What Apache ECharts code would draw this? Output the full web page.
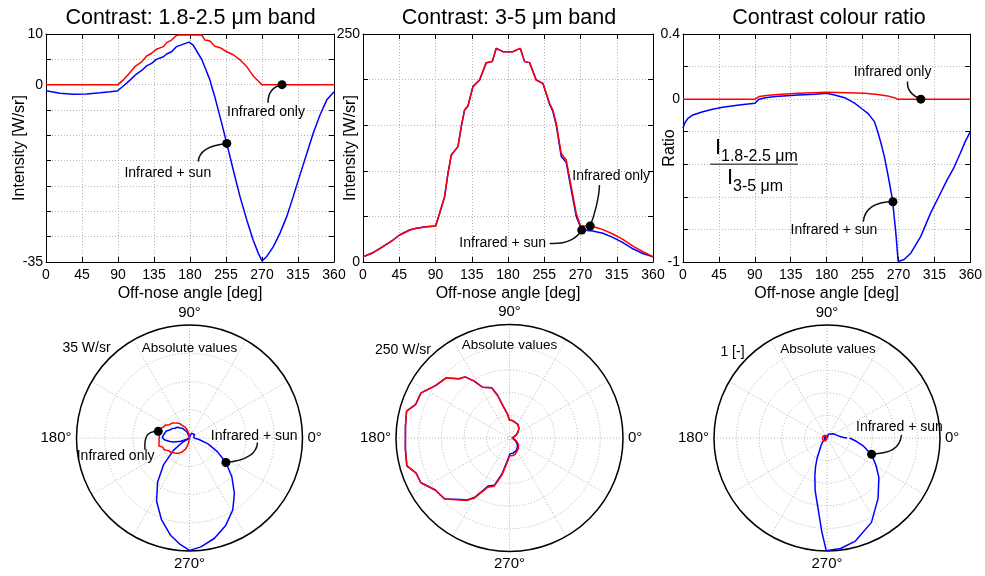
<!DOCTYPE html>
<html>
<head>
<meta charset="utf-8">
<title>Contrast</title>
<script src="https://cdn.jsdelivr.net/npm/echarts@6/dist/echarts.min.js"></script>
<style>
  html, body { margin: 0; padding: 0; background: #fff; }
  #main { width: 985px; height: 576px; }
</style>
</head>
<body>
<div id="main"></div>
<script>
// tick labels of the off-nose angle axis (the 225 tick reads "255" in the original)
const xTickLabels = ['0', '45', '90', '135', '180', '255', '270', '315', '360'];
const yTickLabels1 = ['10', '0', '-35'];
const yTickLabels2 = ['250', '0'];
const yTickLabels3 = ['0.4', '0', '-1'];

// [off-nose angle deg, value]
// 1.8-2.5 um band intensity [W/sr]
const ir1 = [[0,0],[90,0],[97.5,1.05],[105,2.4],[111,3.55],[119.6,4.5],[125.8,5.66],[132,6.2],[138,7.0],[146.7,7.5],
  [150.8,8.3],[157,8.8],[163,9.7],[166,9.8],[194.6,9.8],[198.8,8.8],[205,8.6],[211,7.6],[217.5,7.3],[226,6.5],
  [234,5.9],[242.5,4.9],[251,3.55],[259,1.7],[270,0],[360,0]];
const irSun1 = [[0,-1.2],[17.5,-1.7],[34,-1.9],[51,-1.85],[67.5,-1.6],[80,-1.4],[89,-1.25],[96.7,-0.26],[105,0.9],
  [113,2.1],[119.6,2.8],[125.8,3.7],[132,4.2],[138,5.0],[146.7,5.5],[150.8,6.05],[157,6.5],[163,7.5],[171.7,8.0],
  [178.8,8.4],[184,7.8],[190,6.2],[194.6,5.0],[200,2.9],[205,0.9],[206.5,0],[211,-2.4],[217.5,-6.3],[226,-11.6],
  [234,-16.8],[242.5,-22.1],[251,-26.7],[259,-30.7],[265,-33.1],[270,-34.8],[276,-33.9],[284,-32],[292.5,-29.3],
  [301,-26],[309,-22.1],[317.5,-17.8],[326,-13.6],[334,-9.6],[342.5,-6],[351,-3],[360,-1.4]];

// 3-5 um band intensity [W/sr]
const ir2 = [[0,5.8],[12.4,10.2],[24.8,16.8],[37.2,24.1],[45.5,29.6],[57.9,35.1],[66.2,36.9],[78.6,38.7],[90.2,39.5],
  [95.1,53.4],[101.3,71.6],[105.5,97.2],[109.6,117.3],[117.9,126.5],[122,148.4],[126.1,166.7],[130.3,171],
  [136.5,192.3],[144.7,199.6],[153,218.6],[160.5,219.7],[165.4,234.3],[173.7,230.6],[186.1,230.6],[195.2,234.3],
  [200.6,219.7],[206.8,218.6],[215,199.6],[223.3,195.9],[231.6,174],[235.7,166.7],[239.9,152],[246,119],
  [252.3,111.8],[258.5,82.6],[264.7,53.4],[270,39.5],[281.2,39.5],[289.5,37.8],[297.8,35.5],[310.2,30.7],
  [322.6,24.9],[335,17.5],[347.4,11.3],[360,5.8]];
const irSun2 = [[0,5.8],[12.4,10.2],[24.8,16.8],[37.2,24.1],[45.5,29.6],[57.9,35.1],[66.2,36.9],[78.6,38.7],[90.2,39.5],
  [95.1,53.4],[101.3,71.6],[105.5,97.2],[109.6,117.3],[117.9,126.5],[122,148.4],[126.1,166.7],[130.3,171],
  [136.5,192.3],[144.7,199.6],[153,218.6],[160.5,219.7],[165.4,234.3],[173.7,230.6],[186.1,230.6],[195.2,234.3],
  [200.6,219.7],[206.8,218.6],[215,199.6],[223.3,195.9],[231.6,173],[235.7,165],[239.9,150],[246,116],
  [252.3,109],[258.5,79],[264.7,50],[271.5,35],[285,34],[297.8,31.5],[310.2,27],[322.6,21.2],[335,14.5],
  [347.4,9.3],[360,5.6]];

// colour ratio I(1.8-2.5) / I(3-5)
const ratioIr = [[0,0],[90.2,0],[95.1,0.016],[107.5,0.024],[124,0.03],[144.7,0.036],[180,0.042],[206.8,0.04],
  [227.5,0.036],[244,0.028],[256.4,0.02],[264.7,0.009],[268.8,0],[360,0]];
const ratioSun = [[0,-0.179],[2,-0.148],[6.2,-0.118],[12.4,-0.097],[24.8,-0.077],[37.2,-0.062],[49.6,-0.05],
  [70.3,-0.036],[90.2,-0.025],[95.1,0],[103.4,0.009],[115.8,0.016],[144.7,0.026],[165.4,0.03],[180,0.036],
  [189.8,0.026],[202.6,0.009],[206,0],[215,-0.025],[223.3,-0.056],[231.6,-0.087],[239.9,-0.138],[244,-0.2],
  [248.1,-0.271],[252.3,-0.353],[257.2,-0.475],[262.5,-0.619],[266.7,-0.823],[269.6,-0.997],[277,-0.985],
  [285.4,-0.946],[297.8,-0.844],[310.2,-0.7],[322.6,-0.578],[330.9,-0.496],[339.1,-0.424],[347.4,-0.332],
  [353.6,-0.261],[360,-0.2]];

// marked points [angle, value] for cartesian, [|value|, angle] for polar
const marks = {
  irOnly1: [295, 0], irSun1: [226, -11.6],
  irOnly2: [282, 39.5], irSun2: [271.5, 35],
  irOnly3: [298, 0], irSun3: [263, -0.63],
  polarIrOnly1: [9.9, 168], polarIrSun1: [13.6, 326],
  polarIrSun3: [0.42, 340]
};

const FONT = 'Liberation Sans, Arial, Helvetica, sans-serif';
const BLUE = '#0000ff';
const RED = '#ff0000';
const GRIDLINE = { color: '#b4b4b4', type: [1, 2], width: 1 };

const grids = [
  { left: 46, top: 34, width: 288, height: 228 },
  { left: 363, top: 34, width: 290, height: 228 },
  { left: 683, top: 34, width: 290, height: 228 }
];
const yConf = [
  { min: -35, max: 10, interval: 5, labels: yTickLabels1, name: 'Intensity [W/sr]', gap: 18 },
  { min: 0, max: 250, interval: 50, labels: yTickLabels2, name: 'Intensity [W/sr]', gap: 4 },
  { min: -1, max: 0.4, interval: 0.2, labels: yTickLabels3, name: 'Ratio', gap: 5 }
];

function yLabel(labels) {
  return v => {
    const r = Math.round(v * 1000) / 1000;
    const s = String(r === 0 ? 0 : r);
    return labels.indexOf(s) >= 0 ? s : '';
  };
}

const xAxis = [], yAxis = [];
grids.forEach((g, i) => {
  const tick = { show: true, inside: true, length: 5, lineStyle: { color: '#000' } };
  const line = { show: true, onZero: false, lineStyle: { color: '#000', width: 1 } };
  xAxis.push({
    gridIndex: i, type: 'value', min: 0, max: 360, interval: 45, position: 'bottom',
    axisLine: line, axisTick: tick, splitLine: { show: true, lineStyle: GRIDLINE },
    axisLabel: { color: '#000', fontSize: 14, fontFamily: FONT, margin: 6,
      formatter: v => xTickLabels[Math.round(v / 45)] },
    name: 'Off-nose angle [deg]', nameLocation: 'middle', nameGap: 24, nameMoveOverlap: false,
    nameTextStyle: { color: '#000', fontSize: 16, fontFamily: FONT }
  });
  xAxis.push({
    gridIndex: i, type: 'value', min: 0, max: 360, interval: 45, position: 'top',
    axisLine: line, axisTick: tick, axisLabel: { show: false }, splitLine: { show: false }
  });
  const c = yConf[i];
  yAxis.push({
    gridIndex: i, type: 'value', min: c.min, max: c.max, interval: c.interval, position: 'left',
    axisLine: line, axisTick: tick, splitLine: { show: true, lineStyle: GRIDLINE },
    axisLabel: { color: '#000', fontSize: 14, fontFamily: FONT, margin: 3, formatter: yLabel(c.labels) },
    name: c.name, nameLocation: 'middle', nameGap: c.gap, nameMoveOverlap: false,
    nameTextStyle: { color: '#000', fontSize: 16, fontFamily: FONT }
  });
  yAxis.push({
    gridIndex: i, type: 'value', min: c.min, max: c.max, interval: c.interval, position: 'right',
    axisLine: line, axisTick: tick, axisLabel: { show: false }, splitLine: { show: false }
  });
});

const polars = [
  { center: [189.5, 438], radius: 113 },
  { center: [509.5, 438], radius: 113.5 },
  { center: [827, 438], radius: 113 }
];
const rConf = [{ max: 35, interval: 8.75 }, { max: 250, interval: 50 }, { max: 1, interval: 0.2 }];
const angleAxis = polars.map((p, i) => ({
  polarIndex: i, type: 'value', min: 0, max: 360, interval: 30, startAngle: 0, clockwise: false,
  axisLine: { lineStyle: { color: '#000', width: 1.5 } }, axisTick: { show: false },
  axisLabel: { color: '#000', fontSize: 15, fontFamily: FONT, margin: 5,
    formatter: v => (v % 90 === 0 && v < 360) ? v + '°' : '' },
  splitLine: { show: true, lineStyle: GRIDLINE }
}));
const radiusAxis = polars.map((p, i) => ({
  polarIndex: i, type: 'value', min: 0, max: rConf[i].max, interval: rConf[i].interval,
  axisLine: { show: false }, axisTick: { show: false }, axisLabel: { show: false },
  splitLine: { show: true, lineStyle: GRIDLINE }
}));

function lineSeries(data, color, axis) {
  return Object.assign({ type: 'line', data: data, showSymbol: false, symbol: 'none',
    lineStyle: { color: color, width: 1.5 }, itemStyle: { color: color }, silent: true }, axis);
}
const toPolar = d => d.map(p => [Math.abs(p[1]), p[0]]);
const cart = i => ({ xAxisIndex: 2 * i, yAxisIndex: 2 * i });
const pol = i => ({ coordinateSystem: 'polar', polarIndex: i });

const series = [
  lineSeries(irSun1, BLUE, cart(0)), lineSeries(ir1, RED, cart(0)),
  lineSeries(irSun2, BLUE, cart(1)), lineSeries(ir2, RED, cart(1)),
  lineSeries(ratioSun, BLUE, cart(2)), lineSeries(ratioIr, RED, cart(2)),
  lineSeries(toPolar(irSun1), BLUE, pol(0)), lineSeries(toPolar(ir1), RED, pol(0)),
  lineSeries(toPolar(irSun2), BLUE, pol(1)), lineSeries(toPolar(ir2), RED, pol(1)),
  lineSeries(toPolar(ratioSun), BLUE, pol(2)), lineSeries(toPolar(ratioIr), RED, pol(2))
];

// annotations: dot on the curve, curved leader and label (offsets from the dot in px)
const notes = [
  { sys: cart(0), at: marks.irOnly1, text: 'Infrared only', curve: [[-10, 2], [-14, 8], [-14, 18]], label: [-16, 27] },
  { sys: cart(0), at: marks.irSun1, text: 'Infrared + sun', curve: [[-18, 2], [-28, 8], [-28.5, 18]], label: [-59, 29.5] },
  { sys: cart(1), at: marks.irOnly2, text: 'Infrared only', curve: [[4, -10], [9, -28], [9.3, -41]], label: [21, -49.5] },
  { sys: cart(1), at: marks.irSun2, text: 'Infrared + sun', curve: [[-6, 10], [-18, 14], [-32, 13.3]], label: [-79, 12.6] },
  { sys: cart(2), at: marks.irOnly3, text: 'Infrared only', curve: [[-10, -4], [-14, -10], [-13.3, -17.6]], label: [-28.3, -26.6] },
  { sys: cart(2), at: marks.irSun3, text: 'Infrared + sun', curve: [[-18, 0], [-28, 6], [-29.7, 20]], label: [-59, 28.7] },
  { sys: pol(0), at: marks.polarIrOnly1, text: 'Infrared only', curve: [[-12, 0], [-14, 6], [-13.3, 18.3]], label: [-42.6, 25] },
  { sys: pol(0), at: marks.polarIrSun1, text: 'Infrared + sun', curve: [[20, -2], [31, -8], [31.6, -20]], label: [28.3, -26.6] },
  { sys: pol(2), at: marks.polarIrSun3, text: 'Infrared + sun', curve: [[20, -1], [28, -6], [30, -19.4]], label: [27.8, -26.7] }
];
const dotStart = series.length;
notes.forEach(n => {
  series.push(Object.assign({ type: 'scatter', data: [n.at], symbolSize: 9, z: 5, silent: true,
    itemStyle: { color: '#000', opacity: 1 } }, n.sys));
});

const option = {
  animation: false,
  backgroundColor: '#fff',
  grid: grids,
  xAxis: xAxis,
  yAxis: yAxis,
  polar: polars,
  angleAxis: angleAxis,
  radiusAxis: radiusAxis,
  series: series
};

const chart = echarts.init(document.getElementById('main'));
chart.setOption(option);

function text(t, x, y, size, align) {
  return { type: 'text', z: 10, silent: true,
    style: { text: t, x: x, y: y, fill: '#000', fontSize: size, fontFamily: FONT,
      align: align || 'center', verticalAlign: 'middle' } };
}

const graphic = [
  text('Contrast: 1.8-2.5 μm band', 190.5, 18, 21.5),
  text('Contrast: 3-5 μm band', 509, 18, 21.5),
  text('Contrast colour ratio', 829, 18, 21.5),
  text('35 W/sr', 86.5, 348, 14),
  text('Absolute values', 189.5, 348, 13.5),
  text('250 W/sr', 403, 350, 14),
  text('Absolute values', 509.5, 345, 13.5),
  text('1 [-]', 732.5, 352, 14),
  text('Absolute values', 828, 349, 13.5),
  // ratio formula
  text('I', 715, 147.5, 22, 'left'),
  text('1.8-2.5 μm', 721, 157, 16, 'left'),
  { type: 'line', z: 10, silent: true, shape: { x1: 710, y1: 164.3, x2: 798, y2: 164.3 },
    style: { stroke: '#555', lineWidth: 1.5 } },
  text('I', 727, 177.5, 22, 'left'),
  text('3-5 μm', 733, 187, 16, 'left')
];

notes.forEach((n, k) => {
  const p = chart.convertToPixel({ seriesIndex: dotStart + k }, n.at);
  const c = n.curve;
  graphic.push({ type: 'bezierCurve', z: 4, silent: true,
    shape: { x1: p[0], y1: p[1], cpx1: p[0] + c[0][0], cpy1: p[1] + c[0][1],
      cpx2: p[0] + c[1][0], cpy2: p[1] + c[1][1], x2: p[0] + c[2][0], y2: p[1] + c[2][1] },
    style: { stroke: '#111', lineWidth: 1.5, fill: null } });
  graphic.push(text(n.text, p[0] + n.label[0], p[1] + n.label[1], 14));
});

chart.setOption({ graphic: graphic });
</script>
</body>
</html>
